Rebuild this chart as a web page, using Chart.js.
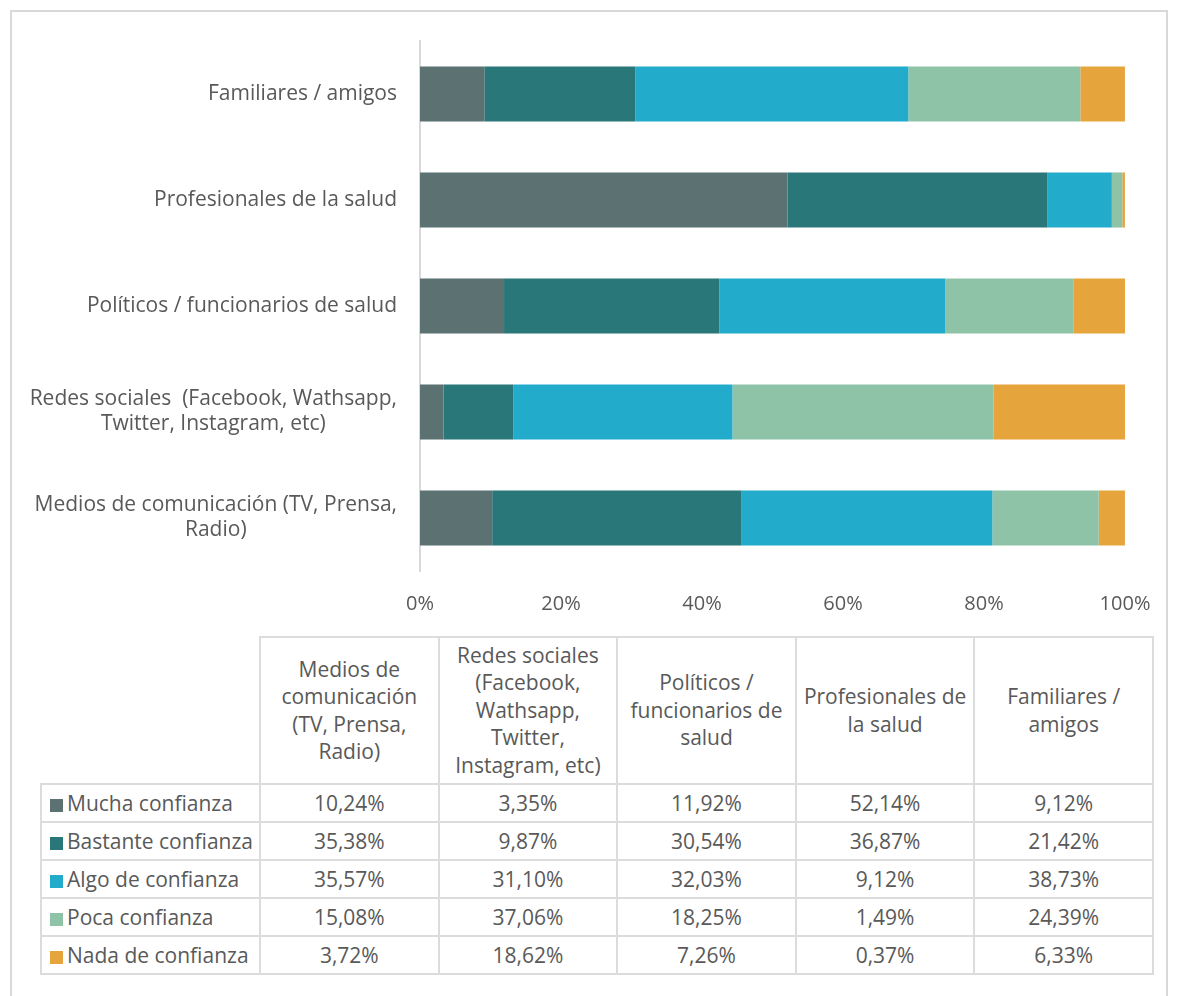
<!DOCTYPE html>
<html lang="es">
<head>
<meta charset="utf-8">
<script src="https://cdn.jsdelivr.net/npm/chart.js@4/dist/chart.umd.min.js"></script>
<style>
  html, body { margin: 0; padding: 0; background: #fff; }
  body { width: 1178px; height: 996px; position: relative; overflow: hidden; font-family: "Open Sans", sans-serif; color: #595959; }
  .marco { position: absolute; left: 10px; top: 10px; width: 1158px; height: 1010px; border: 2px solid #d9d9d9; box-sizing: border-box; }
  #lienzo { position: absolute; left: 0; top: 0; }
  table { position: absolute; left: 40px; top: 636px; border-collapse: collapse; table-layout: fixed; font-size: 21px; }
  td, th { border: 2px solid #dcdcdc; text-align: center; vertical-align: middle; font-weight: normal; padding: 0; }
  th { height: 145px; line-height: 27.5px; }
  td { height: 36px; }
  th.vacio { border: none; border-bottom: 2px solid #dcdcdc; border-right: 2px solid #dcdcdc; }
  td.serie { text-align: left; padding-left: 8px; white-space: nowrap; }
  .cuadro { display: inline-block; width: 13px; height: 13px; margin-right: 4px; vertical-align: -1px; }
</style>
</head>
<body>
<div class="marco"></div>
<canvas id="lienzo" width="1178" height="630"></canvas>
<table id="tabla"></table>
<script>
// Categorías (orden de la tabla; en el gráfico Medios queda abajo)
const categorias = [
  "Medios de comunicación (TV, Prensa, Radio)",
  "Redes sociales  (Facebook, Wathsapp, Twitter, Instagram, etc)",
  "Políticos / funcionarios de salud",
  "Profesionales de la salud",
  "Familiares / amigos"
];
// Cómo se parte cada etiqueta en el eje y en la cabecera de la tabla
const lineasEje = [
  ["Medios de comunicación (TV, Prensa,", "Radio)"],
  ["Redes sociales  (Facebook, Wathsapp,", "Twitter, Instagram, etc)"],
  ["Políticos / funcionarios de salud"],
  ["Profesionales de la salud"],
  ["Familiares / amigos"]
];
const lineasTabla = [
  ["Medios de", "comunicación", "(TV, Prensa,", "Radio)"],
  ["Redes sociales", "(Facebook,", "Wathsapp,", "Twitter,", "Instagram, etc)"],
  ["Políticos /", "funcionarios de", "salud"],
  ["Profesionales de", "la salud"],
  ["Familiares /", "amigos"]
];

const series = ["Mucha confianza", "Bastante confianza", "Algo de confianza", "Poca confianza", "Nada de confianza"];
const colores = ["#5b7172", "#2a7779", "#22abcb", "#8ec3a7", "#e6a43d"];

const mucha     = [10.24, 3.35, 11.92, 52.14, 9.12];
const bastante  = [35.38, 9.87, 30.54, 36.87, 21.42];
const algo      = [35.57, 31.10, 32.03, 9.12, 38.73];
const poca      = [15.08, 37.06, 18.25, 1.49, 24.39];
const nada      = [3.72, 18.62, 7.26, 0.37, 6.33];
const valores = [mucha, bastante, algo, poca, nada];

const ticksX = [0, 20, 40, 60, 80, 100];

const fuente = '"Open Sans", sans-serif';
const gris = '#595959';

// Etiquetas del eje y: bloque alineado a la derecha, líneas centradas entre sí
const etiquetasY = {
  id: 'etiquetasY',
  afterDraw(chart) {
    const ctx = chart.ctx;
    const ejeY = chart.scales.y;
    const derecha = chart.chartArea.left - 23;
    const alto = 25;
    ctx.save();
    ctx.font = '21px ' + fuente;
    ctx.fillStyle = gris;
    ctx.textAlign = 'center';
    ctx.textBaseline = 'middle';
    lineasEje.forEach((lineas, i) => {
      const y = ejeY.getPixelForTick(i);
      const ancho = Math.max(...lineas.map(l => ctx.measureText(l).width));
      const cx = derecha - ancho / 2;
      lineas.forEach((l, j) => {
        ctx.fillText(l, cx, y + (j - (lineas.length - 1) / 2) * alto);
      });
    });
    ctx.restore();
  }
};

const ctx = document.getElementById('lienzo').getContext('2d');
new Chart(ctx, {
  type: 'bar',
  data: {
    labels: categorias,
    datasets: series.map((s, i) => ({
      label: s,
      data: valores[i],
      backgroundColor: colores[i],
      borderWidth: 0,
      barPercentage: 0.52,
      categoryPercentage: 1
    }))
  },
  options: {
    indexAxis: 'y',
    responsive: false,
    animation: false,
    layout: { padding: { top: 41, right: 53, left: 0, bottom: 0 } },
    plugins: { legend: { display: false }, tooltip: { enabled: false } },
    scales: {
      x: {
        stacked: true,
        min: 0,
        max: 100,
        afterBuildTicks: (eje) => { eje.ticks = ticksX.map(v => ({ value: v })); },
        grid: { display: false },
        border: { display: false },
        ticks: {
          color: gris,
          font: { family: fuente, size: 20 },
          padding: 13,
          callback: (v) => v + '%'
        },
        afterFit: (eje) => { eje.height = 59; }
      },
      y: {
        stacked: true,
        reverse: true,
        grid: { display: false },
        border: { display: true, color: '#d9d9d9', width: 2 },
        ticks: { display: false },
        afterFit: (eje) => { eje.width = 420; }
      }
    }
  },
  plugins: [etiquetasY]
});

// Tabla de datos
const fmt = (v) => v.toFixed(2).replace('.', ',') + '%';
const tabla = document.getElementById('tabla');
let html = '<colgroup><col style="width:219px">' + categorias.map(() => '<col style="width:178.6px">').join('') + '</colgroup>';
html += '<tr><th class="vacio"></th>' + lineasTabla.map(l => '<th>' + l.join('<br>') + '</th>').join('') + '</tr>';
series.forEach((s, i) => {
  html += '<tr><td class="serie"><span class="cuadro" style="background:' + colores[i] + '"></span>' + s + '</td>' +
    valores[i].map(v => '<td>' + fmt(v) + '</td>').join('') + '</tr>';
});
tabla.innerHTML = html;
</script>
</body>
</html>
